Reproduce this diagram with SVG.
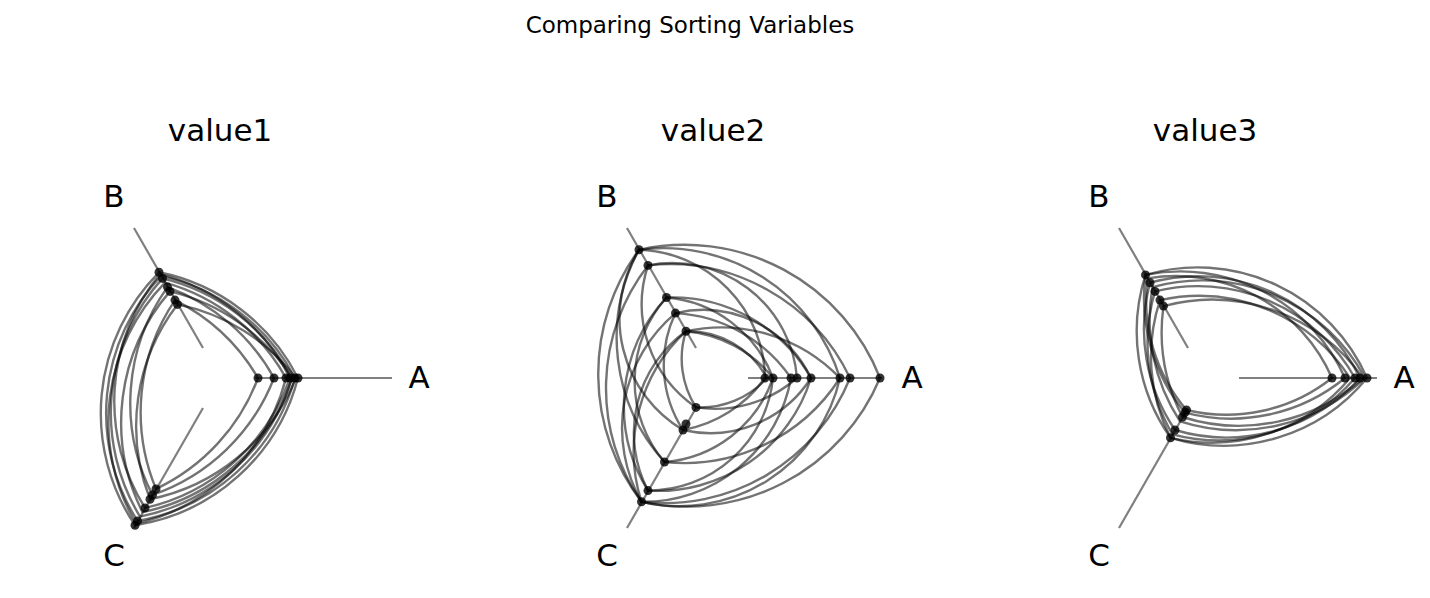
<svg xmlns="http://www.w3.org/2000/svg" width="1430" height="598" viewBox="0 0 1430 598">
<style>
text{font-family:"DejaVu Sans",sans-serif;fill:#000}
.ax{stroke:#808080;stroke-width:2.2}
.lp path{fill:none;stroke:#000;stroke-opacity:0.55;stroke-width:2.4}
.pt circle{fill:#000;fill-opacity:0.8}
.lb{font-size:31px}
.tt{font-size:31px}
</style>
<rect width="1430" height="598" fill="#fff"/>
<text x="690" y="33" font-size="23" text-anchor="middle">Comparing Sorting Variables</text>
<g id="panel1">
<text class="tt" x="220" y="141" text-anchor="middle">value1</text>
<line class="ax" x1="255" y1="378" x2="392" y2="378"/>
<line class="ax" x1="203" y1="348" x2="134" y2="228"/>
<line class="ax" x1="203" y1="408" x2="134" y2="528"/>
<g class="lp">
<path d="M298,378 A200,200 0 0 0 159,272.3 A200,200 0 0 0 135,525.2 A200,200 0 0 0 298,378Z"/>
<path d="M295,378 A200,200 0 0 0 161,275.8 A200,200 0 0 0 137.5,520.9 A200,200 0 0 0 295,378Z"/>
<path d="M292,378 A200,200 0 0 0 162.5,278.4 A200,200 0 0 0 140,516.6 A200,200 0 0 0 292,378Z"/>
<path d="M290,378 A200,200 0 0 0 160,274.1 A200,200 0 0 0 145,507.9 A200,200 0 0 0 290,378Z"/>
<path d="M286,378 A200,200 0 0 0 165,282.7 A200,200 0 0 0 136,523.5 A200,200 0 0 0 286,378Z"/>
<path d="M274,378 A200,200 0 0 0 167.5,287.1 A200,200 0 0 0 152.5,494.9 A200,200 0 0 0 274,378Z"/>
<path d="M258,378 A200,200 0 0 0 175,300.1 A200,200 0 0 0 156,488.9 A200,200 0 0 0 258,378Z"/>
<path d="M296,378 A200,200 0 0 0 177.5,304.4 A200,200 0 0 0 150,499.2 A200,200 0 0 0 296,378Z"/>
<path d="M292,378 A200,200 0 0 0 170,291.4 A200,200 0 0 0 142.5,512.2 A200,200 0 0 0 292,378Z"/>
</g>
<g class="pt">
<circle cx="298" cy="378" r="4.5"/><circle cx="295" cy="378" r="4.5"/><circle cx="290" cy="378" r="4.5"/><circle cx="286" cy="378" r="4.5"/><circle cx="274" cy="378" r="4.5"/><circle cx="258" cy="378" r="4.5"/>
<circle cx="159" cy="272.3" r="4.5"/><circle cx="162.5" cy="278.4" r="4.5"/><circle cx="167.5" cy="287.1" r="4.5"/><circle cx="175" cy="300.1" r="4.5"/><circle cx="177.5" cy="304.4" r="4.5"/><circle cx="170" cy="291.4" r="4.5"/>
<circle cx="135" cy="525.2" r="4.5"/><circle cx="137.5" cy="520.9" r="4.5"/><circle cx="145" cy="507.9" r="4.5"/><circle cx="152.5" cy="494.9" r="4.5"/><circle cx="156" cy="488.9" r="4.5"/><circle cx="150" cy="499.2" r="4.5"/>
</g>
<text class="lb" x="419" y="388" text-anchor="middle">A</text>
<text class="lb" x="114" y="207" text-anchor="middle">B</text>
<text class="lb" x="114" y="566" text-anchor="middle">C</text>
</g>
<g id="panel2">
<text class="tt" x="713" y="141" text-anchor="middle">value2</text>
<line class="ax" x1="748" y1="378" x2="882" y2="378"/>
<line class="ax" x1="696" y1="348" x2="627" y2="228"/>
<line class="ax" x1="696" y1="408" x2="627" y2="528"/>
<g class="lp">
<path d="M880,378 A210,210 0 0 0 639,249.8 A210,210 0 0 0 641.5,501.8 A210,210 0 0 0 880,378Z"/>
<path d="M850,378 A200,200 0 0 0 648,265.4 A200,200 0 0 0 641.5,501.8 A200,200 0 0 0 850,378Z"/>
<path d="M840,378 A185,185 0 0 0 639,249.8 A185,185 0 0 0 664.5,462 A185,185 0 0 0 840,378Z"/>
<path d="M811,378 A160,160 0 0 0 666.5,297.5 A160,160 0 0 0 648,490.6 A160,160 0 0 0 811,378Z"/>
<path d="M791,378 A150,150 0 0 0 675.5,313.1 A150,150 0 0 0 641.5,501.8 A150,150 0 0 0 791,378Z"/>
<path d="M773,378 A125,125 0 0 0 686,331.2 A125,125 0 0 0 648,490.6 A125,125 0 0 0 773,378Z"/>
<path d="M765,378 A130,130 0 0 0 639,249.8 A130,130 0 0 0 683,430 A130,130 0 0 0 765,378Z"/>
<path d="M797,378 A125,125 0 0 0 648,265.4 A125,125 0 0 0 696,407.4 A125,125 0 0 0 797,378Z"/>
<path d="M773,378 A125,125 0 0 0 666.5,297.5 A125,125 0 0 0 664.5,462 A125,125 0 0 0 773,378Z"/>
<path d="M811,378 A120,120 0 0 0 675.5,313.1 A120,120 0 0 0 683,430 A120,120 0 0 0 811,378Z"/>
<path d="M840,378 A165,165 0 0 0 686,331.2 A165,165 0 0 0 641.5,501.8 A165,165 0 0 0 840,378Z"/>
<path d="M767,378 A90,90 0 0 0 686,331.2 A90,90 0 0 0 696,407.4 A90,90 0 0 0 767,378Z"/>
</g>
<g class="pt">
<circle cx="880" cy="378" r="4.5"/><circle cx="850" cy="378" r="4.5"/><circle cx="840" cy="378" r="4.5"/><circle cx="811" cy="378" r="4.5"/><circle cx="797" cy="378" r="4.5"/><circle cx="791" cy="378" r="4.5"/><circle cx="773" cy="378" r="4.5"/><circle cx="765" cy="378" r="4.5"/>
<circle cx="639" cy="249.8" r="4.5"/><circle cx="648" cy="265.4" r="4.5"/><circle cx="666.5" cy="297.5" r="4.5"/><circle cx="675.5" cy="313.1" r="4.5"/><circle cx="686" cy="331.2" r="4.5"/>
<circle cx="641.5" cy="501.8" r="4.5"/><circle cx="648" cy="490.6" r="4.5"/><circle cx="664.5" cy="462" r="4.5"/><circle cx="683" cy="430" r="4.5"/><circle cx="686" cy="424" r="4.5"/><circle cx="696" cy="407.4" r="4.5"/>
</g>
<text class="lb" x="912" y="388" text-anchor="middle">A</text>
<text class="lb" x="607" y="207" text-anchor="middle">B</text>
<text class="lb" x="607" y="566" text-anchor="middle">C</text>
</g>
<g id="panel3">
<text class="tt" x="1205" y="141" text-anchor="middle">value3</text>
<line class="ax" x1="1239" y1="378" x2="1377" y2="378"/>
<line class="ax" x1="1188" y1="348" x2="1119" y2="228"/>
<line class="ax" x1="1188" y1="408" x2="1119" y2="528"/>
<g class="lp">
<path d="M1367,378 A185,185 0 0 0 1145.5,274.9 A185,185 0 0 0 1170.5,437.8 A185,185 0 0 0 1367,378Z"/>
<path d="M1360,378 A180,180 0 0 0 1150,282.7 A180,180 0 0 0 1175,430 A180,180 0 0 0 1360,378Z"/>
<path d="M1355,378 A180,180 0 0 0 1155,291.4 A180,180 0 0 0 1172.5,434.3 A180,180 0 0 0 1355,378Z"/>
<path d="M1363,378 A185,185 0 0 0 1163.5,306.1 A185,185 0 0 0 1182.5,417 A185,185 0 0 0 1363,378Z"/>
<path d="M1332,378 A170,170 0 0 0 1147.5,278.4 A170,170 0 0 0 1186.5,410 A170,170 0 0 0 1332,378Z"/>
<path d="M1350,378 A180,180 0 0 0 1160,300.1 A180,180 0 0 0 1170.5,437.8 A180,180 0 0 0 1350,378Z"/>
<path d="M1365,378 A185,185 0 0 0 1152.5,287.1 A185,185 0 0 0 1180,421.3 A185,185 0 0 0 1365,378Z"/>
<path d="M1345,378 A180,180 0 0 0 1145.5,274.9 A180,180 0 0 0 1185,412.6 A180,180 0 0 0 1345,378Z"/>
</g>
<g class="pt">
<circle cx="1367" cy="378" r="4.5"/><circle cx="1360" cy="378" r="4.5"/><circle cx="1355" cy="378" r="4.5"/><circle cx="1345" cy="378" r="4.5"/><circle cx="1332" cy="378" r="4.5"/>
<circle cx="1145.5" cy="274.9" r="4.5"/><circle cx="1150" cy="282.7" r="4.5"/><circle cx="1155" cy="291.4" r="4.5"/><circle cx="1163.5" cy="306.1" r="4.5"/><circle cx="1160" cy="300.1" r="4.5"/>
<circle cx="1170.5" cy="437.8" r="4.5"/><circle cx="1175" cy="430" r="4.5"/><circle cx="1182.5" cy="417" r="4.5"/><circle cx="1186.5" cy="410" r="4.5"/><circle cx="1185" cy="412.6" r="4.5"/>
</g>
<text class="lb" x="1404" y="388" text-anchor="middle">A</text>
<text class="lb" x="1099" y="207" text-anchor="middle">B</text>
<text class="lb" x="1099" y="566" text-anchor="middle">C</text>
</g>
</svg>
